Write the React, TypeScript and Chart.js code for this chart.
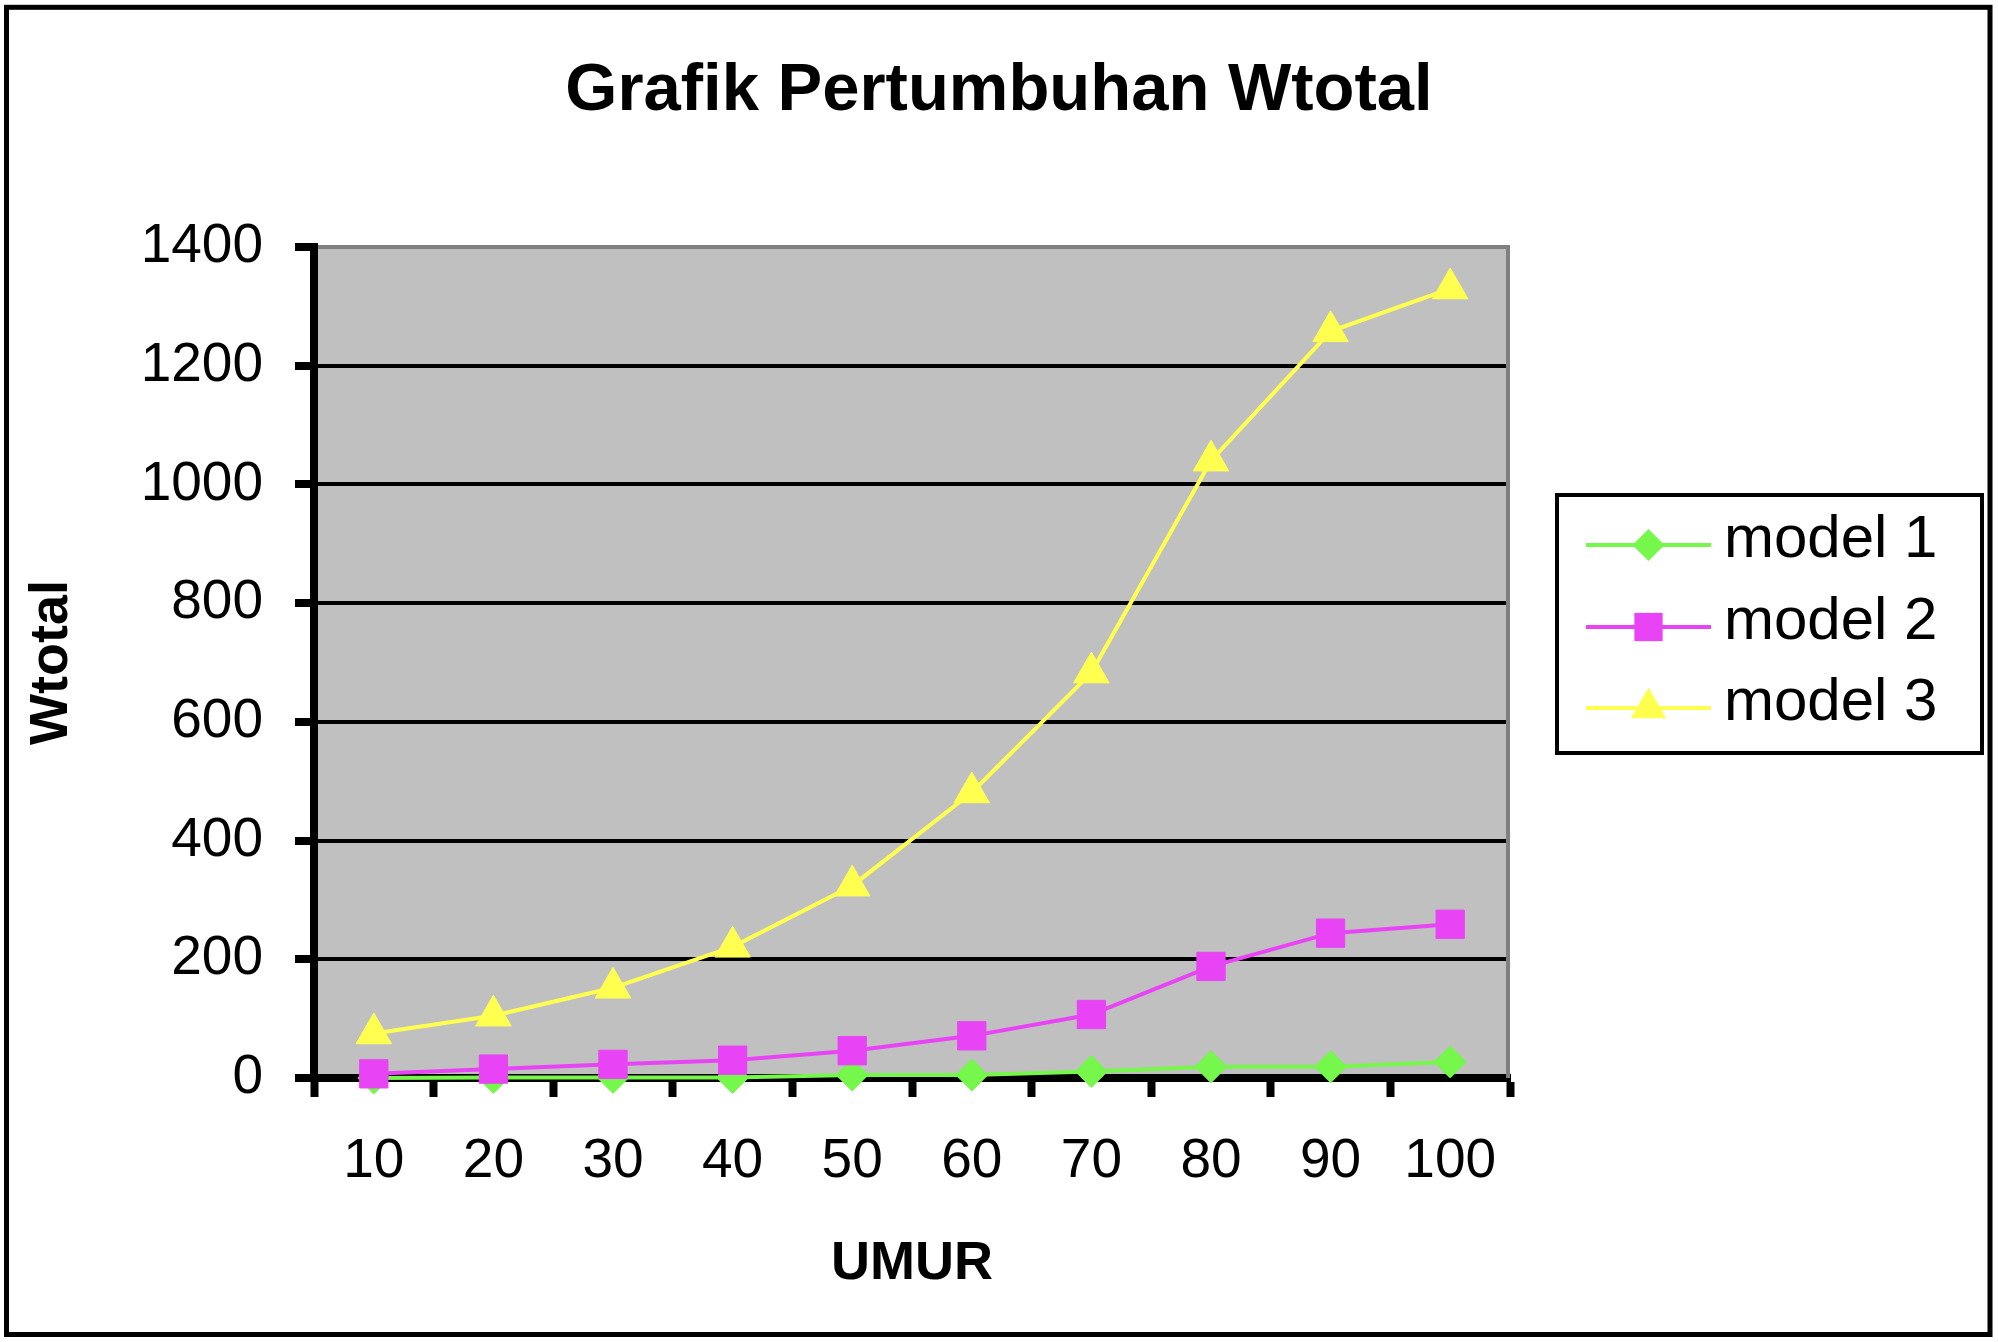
import React, { useEffect, useRef } from 'react';
import { Chart, registerables } from 'chart.js';

Chart.register(...registerables);

// ---------------- data ----------------
const categories = ['10', '20', '30', '40', '50', '60', '70', '80', '90', '100'];
const model1 = [0, 1, 1, 1, 5, 5, 11, 19, 19, 27];
const model2 = [7, 15, 23, 30, 46, 71, 107, 188, 244, 259];
const model3 = [75, 105, 152, 221, 324, 481, 683, 1040, 1258, 1330];
const seriesNames = ['model 1', 'model 2', 'model 3'];
const yMin = 0;
const yMax = 1400;
const yStep = 200;
const titleText = 'Grafik Pertumbuhan Wtotal';
const xTitleText = 'UMUR';
const yTitleText = 'Wtotal';

// ---------------- styles ----------------
const GREEN = '#76F74B';
const MAGENTA = '#E844F5';
const YELLOW = '#FFFF50';
const PLOT_BG = '#C0C0C0';
const FONT = '"Liberation Sans", Arial, Helvetica, sans-serif';

function drawMarker(ctx: CanvasRenderingContext2D, style: string, x: number, y: number, r: number) {
  ctx.beginPath();
  if (style === 'rectRot') {
    ctx.moveTo(x - r, y);
    ctx.lineTo(x, y - r);
    ctx.lineTo(x + r, y);
    ctx.lineTo(x, y + r);
    ctx.closePath();
  } else if (style === 'rect') {
    const s = Math.SQRT1_2 * r;
    ctx.rect(x - s, y - s, 2 * s, 2 * s);
  } else if (style === 'triangle') {
    const a = (2 * Math.PI) / 3;
    ctx.moveTo(x, y - r);
    ctx.lineTo(x + Math.sin(a) * r, y - Math.cos(a) * r);
    ctx.lineTo(x + Math.sin(2 * a) * r, y - Math.cos(2 * a) * r);
    ctx.closePath();
  } else {
    ctx.arc(x, y, r, 0, Math.PI * 2);
  }
  ctx.fill();
}

const framePlugin = {
  id: 'framePlugin',
  beforeDraw(chart: any) {
    const { ctx, chartArea: a, width, height } = chart;
    ctx.save();
    ctx.fillStyle = '#FFFFFF';
    ctx.fillRect(0, 0, width, height);
    ctx.fillStyle = PLOT_BG;
    ctx.fillRect(a.left, a.top, a.right - a.left, a.bottom - a.top);
    ctx.restore();
  },
  beforeDatasetsDraw(chart: any) {
    const { ctx, chartArea: a } = chart;
    ctx.save();
    ctx.strokeStyle = '#808080';
    ctx.lineWidth = 4;
    ctx.beginPath();
    ctx.moveTo(a.right - 2, a.top - 2);
    ctx.lineTo(a.right - 2, a.bottom);
    ctx.stroke();
    ctx.restore();
  },
  afterDraw(chart: any) {
    const { ctx, width, height } = chart;
    ctx.save();
    // outer frame
    ctx.strokeStyle = '#000';
    ctx.lineWidth = 5;
    ctx.strokeRect(6.5, 7.3, width - 6.5 - 8, height - 7.3 - 7.5);

    // legend
    const L = { left: 1557, top: 495, right: 1982, bottom: 753 };
    ctx.lineWidth = 4;
    ctx.strokeStyle = '#000';
    ctx.strokeRect(L.left, L.top, L.right - L.left, L.bottom - L.top);
    const rowY = [545, 627, 708];
    const lineX0 = 1586;
    const lineX1 = 1711;
    const textX = 1724;
    chart.data.datasets.forEach((ds: any, i: number) => {
      const y = rowY[i];
      ctx.strokeStyle = ds.borderColor;
      ctx.lineWidth = 4;
      ctx.beginPath();
      ctx.moveTo(lineX0, y);
      ctx.lineTo(lineX1, y);
      ctx.stroke();
      ctx.fillStyle = ds.pointBackgroundColor;
      drawMarker(ctx, ds.pointStyle, (lineX0 + lineX1) / 2, y, ds.pointRadius);
      ctx.fillStyle = '#000';
      ctx.font = `60px ${FONT}`;
      ctx.textAlign = 'left';
      ctx.textBaseline = 'alphabetic';
      ctx.fillText(ds.label, textX, y + 12);
    });
    ctx.restore();
  },
};

export default function App() {
  const canvasRef = useRef<HTMLCanvasElement | null>(null);

  useEffect(() => {
    const canvas = canvasRef.current;
    if (!canvas) return;
    Chart.defaults.font.family = FONT;
    Chart.defaults.color = '#000';

    const chart = new Chart(canvas, {
      type: 'line',
      data: {
        labels: categories,
        datasets: [
          {
            label: seriesNames[0],
            data: model1,
            xAxisID: 'x',
            yAxisID: 'y',
            borderColor: GREEN,
            backgroundColor: GREEN,
            borderWidth: 4,
            pointStyle: 'rectRot',
            pointRadius: 16,
            pointBackgroundColor: GREEN,
            pointBorderColor: GREEN,
            pointBorderWidth: 1,
            tension: 0,
            clip: false,
            order: 3,
          },
          {
            label: seriesNames[1],
            data: model2,
            xAxisID: 'x',
            yAxisID: 'y',
            borderColor: MAGENTA,
            backgroundColor: MAGENTA,
            borderWidth: 4,
            pointStyle: 'rect',
            pointRadius: 20,
            pointBackgroundColor: MAGENTA,
            pointBorderColor: MAGENTA,
            pointBorderWidth: 1,
            tension: 0,
            clip: false,
            order: 2,
          },
          {
            label: seriesNames[2],
            data: model3,
            xAxisID: 'x',
            yAxisID: 'y',
            borderColor: YELLOW,
            backgroundColor: YELLOW,
            borderWidth: 4,
            pointStyle: 'triangle',
            pointRadius: 20.5,
            pointBackgroundColor: YELLOW,
            pointBorderColor: YELLOW,
            pointBorderWidth: 1,
            tension: 0,
            clip: false,
            order: 1,
          },
        ] as any,
      },
      options: {
        animation: false,
        responsive: false,
        devicePixelRatio: 1,
        events: [],
        layout: { padding: { top: 8, left: 8, right: 8, bottom: 8 } },
        plugins: {
          legend: { display: false },
          tooltip: { enabled: false },
          title: {
            display: true,
            text: titleText,
            color: '#000',
            font: { family: FONT, size: 67, weight: 'bold', lineHeight: 1.2 },
            padding: { top: 43.3, bottom: 115.3 },
          },
        },
        scales: {
          x: {
            type: 'category',
            offset: true,
            grid: {
              display: true,
              drawOnChartArea: false,
              drawTicks: true,
              tickLength: 19,
              tickWidth: 8,
              tickColor: '#000',
              offset: true,
            },
            border: { display: true, color: '#000', width: 8 },
            ticks: {
              color: '#000',
              font: { family: FONT, size: 55, lineHeight: 1.2 },
              padding: 31.6,
              maxRotation: 0,
              autoSkip: false,
            },
            title: {
              display: true,
              text: xTitleText,
              color: '#000',
              font: { family: FONT, size: 54, weight: 'bold', lineHeight: 1.2 },
              padding: { top: 0, bottom: 37.6 },
            },
            afterFit: (s: any) => {
              s.height = 256;
            },
          },
          y: {
            type: 'linear',
            position: 'left',
            min: yMin,
            max: yMax,
            ticks: {
              stepSize: yStep,
              color: '#000',
              font: { family: FONT, size: 55, lineHeight: 1.2 },
              padding: 32,
              callback: (v: any) => String(v),
            },
            grid: {
              color: (c: any) => (c.tick && c.tick.value === yMax ? '#808080' : '#000'),
              lineWidth: 4,
              drawTicks: true,
              tickLength: 19,
              tickWidth: 8,
              tickColor: '#000',
            },
            border: { display: true, color: '#000', width: 8 },
            title: {
              display: true,
              text: yTitleText,
              color: '#000',
              font: { family: FONT, size: 54, weight: 'bold', lineHeight: 1.2 },
              padding: { top: 11.6, bottom: 0 },
            },
            afterFit: (s: any) => {
              s.width = 306;
            },
          },
          spacer: {
            type: 'linear',
            position: 'right',
            display: true,
            grid: { display: false },
            border: { display: false },
            ticks: { display: false },
            afterFit: (s: any) => {
              s.width = 480;
            },
          },
        },
      } as any,
      plugins: [framePlugin],
    });

    return () => {
      chart.destroy();
    };
  }, []);

  return (
    <div style={{ position: 'absolute', left: 0, top: 0, width: 1998, height: 1342, background: '#fff' }}>
      <canvas
        ref={canvasRef}
        width={1998}
        height={1342}
        style={{ display: 'block', width: '1998px', height: '1342px' }}
      />
    </div>
  );
}
